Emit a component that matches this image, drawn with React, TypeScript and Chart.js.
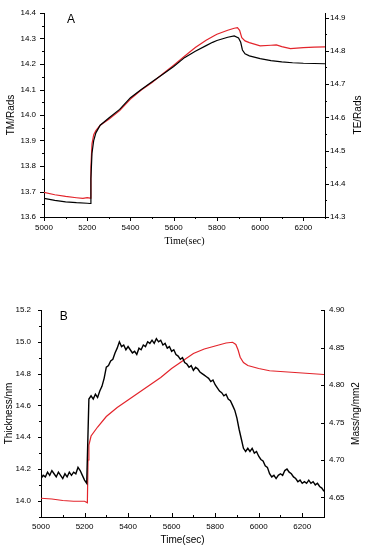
import React, { useEffect, useRef } from 'react';
import { Chart, registerables } from 'chart.js';

Chart.register(...registerables);

// ---------- Panel A data ----------
const timeTM = [5000, 5050, 5100, 5150, 5200, 5213, 5217, 5222, 5230, 5240, 5260, 5300, 5350, 5400, 5450, 5500, 5550, 5600, 5650, 5700, 5750, 5780, 5800, 5850, 5880, 5900, 5910, 5918, 5930, 5950, 6000, 6050, 6100, 6150, 6200, 6250, 6300];
const valTM = [13.673, 13.665, 13.659, 13.656, 13.654, 13.653, 13.75, 13.85, 13.90, 13.93, 13.96, 13.988, 14.022, 14.068, 14.10, 14.13, 14.16, 14.19, 14.225, 14.25, 14.272, 14.285, 14.292, 14.305, 14.31, 14.302, 14.285, 14.255, 14.24, 14.232, 14.221, 14.213, 14.208, 14.205, 14.203, 14.202, 14.201];

const timeTE = [5000, 5050, 5100, 5150, 5180, 5200, 5213, 5217, 5222, 5230, 5240, 5260, 5300, 5350, 5400, 5450, 5500, 5550, 5600, 5650, 5700, 5750, 5785, 5800, 5850, 5880, 5895, 5905, 5915, 5930, 5950, 6000, 6050, 6075, 6100, 6140, 6200, 6250, 6300];
const valTE = [14.374, 14.367, 14.362, 14.358, 14.356, 14.358, 14.357, 14.45, 14.52, 14.548, 14.56, 14.576, 14.594, 14.620, 14.655, 14.682, 14.705, 14.731, 14.757, 14.784, 14.81, 14.832, 14.845, 14.85, 14.862, 14.868, 14.870, 14.862, 14.840, 14.830, 14.825, 14.815, 14.817, 14.818, 14.813, 14.807, 14.810, 14.811, 14.812];

// ---------- Panel B data ----------
const thickStart = 5000;
const thickStep = 10;
const thickVals = [
  14.14, 14.16, 14.15, 14.18, 14.16, 14.19, 14.17, 14.15, 14.18, 14.16,
  14.14, 14.17, 14.15, 14.18, 14.16, 14.18, 14.17, 14.21, 14.19, 14.16,
  14.13, 14.11, 14.64, 14.66, 14.64, 14.67, 14.65, 14.69, 14.72, 14.77,
  14.84, 14.85, 14.88, 14.89, 14.93, 14.96, 15.00, 14.97, 14.98, 14.95,
  14.97, 14.95, 14.93, 14.94, 14.92, 14.96, 14.95, 14.98, 14.97, 15.00,
  14.99, 15.01, 14.99, 15.02, 15.00, 15.01, 14.98, 14.99, 14.96, 14.97,
  14.94, 14.95, 14.92, 14.91, 14.89, 14.90, 14.87, 14.86, 14.84, 14.85,
  14.82, 14.84, 14.83, 14.81, 14.80, 14.79, 14.78, 14.77, 14.75, 14.76,
  14.73, 14.71, 14.69, 14.68, 14.66, 14.67, 14.64, 14.63, 14.60, 14.57,
  14.52, 14.45, 14.39, 14.33, 14.31, 14.33, 14.31, 14.33, 14.30, 14.31,
  14.28, 14.26, 14.25, 14.22, 14.21, 14.17, 14.15, 14.16, 14.14, 14.16,
  14.17, 14.16, 14.19, 14.20, 14.18, 14.17, 14.15, 14.14, 14.12, 14.13,
  14.11, 14.12, 14.11, 14.13, 14.11, 14.12, 14.10, 14.11, 14.09, 14.08,
  14.06,
];

const timeMass = [5000, 5050, 5100, 5150, 5200, 5213, 5216, 5220, 5230, 5260, 5300, 5350, 5400, 5450, 5500, 5550, 5600, 5650, 5700, 5750, 5800, 5850, 5880, 5895, 5905, 5915, 5930, 5950, 6000, 6050, 6100, 6150, 6200, 6250, 6300];
const valMass = [4.649, 4.648, 4.646, 4.645, 4.645, 4.643, 4.70, 4.72, 4.732, 4.744, 4.758, 4.770, 4.780, 4.790, 4.800, 4.810, 4.822, 4.832, 4.842, 4.848, 4.852, 4.856, 4.857, 4.854, 4.847, 4.837, 4.830, 4.826, 4.822, 4.819, 4.818, 4.817, 4.816, 4.815, 4.814];

// ---------- Tick labels ----------
const xTicks = [5000, 5200, 5400, 5600, 5800, 6000, 6200];
const xMinor = [5100, 5300, 5500, 5700, 5900, 6100, 6300];
const tmTicks = [13.6, 13.7, 13.8, 13.9, 14.0, 14.1, 14.2, 14.3, 14.4];
const teTicks = [14.3, 14.4, 14.5, 14.6, 14.7, 14.8, 14.9];
const thickTicks = [14.0, 14.2, 14.4, 14.6, 14.8, 15.0, 15.2];
const massTicks = [4.65, 4.70, 4.75, 4.80, 4.85, 4.90];

const midpoints = (arr: number[]) => arr.slice(0, -1).map((v, i) => (v + arr[i + 1]) / 2);

const BLACK = '#000000';
const RED = '#e3242b';
const SANS = '"Liberation Sans", Arial, sans-serif';
const SERIF = '"Liberation Serif", "Times New Roman", serif';

type TickSpec = { id: string; major: number[]; minor: number[]; len: number; minorLen: number; dir: number };

const tickPlugin = (specs: TickSpec[]) => ({
  id: 'tickMarks',
  afterDraw(chart: any) {
    const ctx = chart.ctx;
    const ca = chart.chartArea;
    ctx.save();
    ctx.strokeStyle = '#000';
    ctx.lineWidth = 1;
    for (const s of specs) {
      const sc = chart.scales[s.id];
      const draw = (v: number, len: number) => {
        const p = Math.round(sc.getPixelForValue(v)) + 0.5;
        ctx.beginPath();
        if (sc.isHorizontal()) {
          const y0 = ca.bottom;
          ctx.moveTo(p, y0);
          ctx.lineTo(p, y0 + s.dir * len);
        } else if (sc.position === 'left') {
          const x0 = ca.left;
          ctx.moveTo(x0, p);
          ctx.lineTo(x0 - s.dir * len, p);
        } else {
          const x0 = ca.right;
          ctx.moveTo(x0, p);
          ctx.lineTo(x0 + s.dir * len, p);
        }
        ctx.stroke();
      };
      s.major.forEach((v) => draw(v, s.len));
      s.minor.forEach((v) => draw(v, s.minorLen));
    }
    ctx.restore();
  },
});

// Right-hand axis title, rotated to read bottom-to-top like the left one
const rightTitlePlugin = (text: string, x: number, size: number) => ({
  id: 'rightTitle',
  afterDraw(chart: any) {
    const ctx = chart.ctx;
    const ca = chart.chartArea;
    ctx.save();
    ctx.translate(x, (ca.top + ca.bottom) / 2);
    ctx.rotate(-Math.PI / 2);
    ctx.font = `${size}px ${SANS}`;
    ctx.fillStyle = '#000';
    ctx.textAlign = 'center';
    ctx.textBaseline = 'middle';
    ctx.fillText(text, 0, 0);
    ctx.restore();
  },
});

const letterPlugin = (letter: string, xv: number, yv: number, yId: string, size: number) => ({
  id: 'letter' + letter,
  afterDraw(chart: any) {
    const ctx = chart.ctx;
    const x = chart.scales.x.getPixelForValue(xv);
    const y = chart.scales[yId].getPixelForValue(yv);
    ctx.save();
    ctx.font = `${size}px ${SANS}`;
    ctx.fillStyle = '#000';
    ctx.textAlign = 'center';
    ctx.textBaseline = 'middle';
    ctx.fillText(letter, x, y);
    ctx.restore();
  },
});

const tickFont = { family: SANS, size: 8 };

function axis(opts: any) {
  const { ticks, fmt, min, max, position, width, height, pad, title, titleFont, titlePad } = opts;
  const o: any = {
    type: 'linear',
    position,
    min,
    max,
    border: { display: true, color: '#000', width: 1 },
    grid: { display: false, drawTicks: false },
    ticks: {
      font: tickFont,
      color: '#000',
      padding: pad,
      autoSkip: false,
      maxRotation: 0,
      includeBounds: false,
      callback: (v: number) => fmt(v),
    },
    afterBuildTicks: (s: any) => {
      s.ticks = ticks.map((v: number) => ({ value: v }));
    },
    afterFit: (s: any) => {
      if (width !== undefined) s.width = width;
      if (height !== undefined) s.height = height;
    },
    title: {
      display: !!title,
      text: title || '',
      color: '#000',
      font: titleFont,
      padding: titlePad,
    },
  };
  return o;
}

export default function App() {
  const refA = useRef<HTMLCanvasElement>(null);
  const refB = useRef<HTMLCanvasElement>(null);

  useEffect(() => {
    const chartA = new Chart(refA.current as HTMLCanvasElement, {
      type: 'line',
      data: {
        datasets: [
          {
            label: 'TM',
            data: timeTM.map((t, i) => ({ x: t, y: valTM[i] })),
            borderColor: BLACK,
            borderWidth: 1.2,
            pointRadius: 0,
            yAxisID: 'y',
          },
          {
            label: 'TE',
            data: timeTE.map((t, i) => ({ x: t, y: valTE[i] })),
            borderColor: RED,
            borderWidth: 1.2,
            pointRadius: 0,
            yAxisID: 'y2',
          },
        ],
      },
      options: {
        responsive: false,
        animation: false,
        devicePixelRatio: 1,
        layout: { padding: { top: 13, left: 0, right: 0, bottom: 0 } },
        plugins: { legend: { display: false }, tooltip: { enabled: false } },
        scales: {
          x: axis({
            ticks: xTicks, fmt: (v: number) => String(v), min: 5000, max: 6300, position: 'bottom',
            height: 58, pad: 6, title: 'Time(sec)', titleFont: { family: SERIF, size: 10 },
            titlePad: { top: 0, bottom: 28 },
          }),
          y: axis({
            ticks: tmTicks, fmt: (v: number) => v.toFixed(1), min: 13.6, max: 14.4, position: 'left',
            width: 44, pad: 8, title: 'TM/Rads', titleFont: { family: SANS, size: 10 },
            titlePad: { top: 5, bottom: 0 },
          }),
          y2: axis({
            ticks: teTicks, fmt: (v: number) => v.toFixed(1), min: 14.3, max: 14.914, position: 'right',
            width: 40, pad: 5, title: '',
          }),
        },
      },
      plugins: [
        tickPlugin([
          { id: 'x', major: xTicks, minor: xMinor, len: 4, minorLen: 2, dir: 1 },
          { id: 'y', major: tmTicks, minor: midpoints(tmTicks), len: 4, minorLen: 2, dir: 1 },
          { id: 'y2', major: teTicks, minor: midpoints(teTicks), len: 4, minorLen: 2, dir: 1 },
        ]),
        rightTitlePlugin('TE/Rads', 358, 10),
        letterPlugin('A', 5125, 14.375, 'y', 12),
      ],
    } as any);

    const chartB = new Chart(refB.current as HTMLCanvasElement, {
      type: 'line',
      data: {
        datasets: [
          {
            label: 'Thickness',
            data: thickVals.map((v, i) => ({ x: thickStart + i * thickStep, y: v })),
            borderColor: BLACK,
            borderWidth: 1.4,
            pointRadius: 0,
            yAxisID: 'y',
          },
          {
            label: 'Mass',
            data: timeMass.map((t, i) => ({ x: t, y: valMass[i] })),
            borderColor: RED,
            borderWidth: 1.2,
            pointRadius: 0,
            yAxisID: 'y2',
          },
        ],
      },
      options: {
        responsive: false,
        animation: false,
        devicePixelRatio: 1,
        layout: { padding: { top: 35, left: 0, right: 0, bottom: 0 } },
        plugins: { legend: { display: false }, tooltip: { enabled: false } },
        scales: {
          x: axis({
            ticks: xTicks, fmt: (v: number) => String(v), min: 5000, max: 6300, position: 'bottom',
            height: 33, pad: 5, title: 'Time(sec)', titleFont: { family: SANS, size: 10 },
            titlePad: { top: 0, bottom: 4 },
          }),
          y: axis({
            ticks: thickTicks, fmt: (v: number) => v.toFixed(1), min: 13.898, max: 15.2, position: 'left',
            width: 41, pad: 10, title: 'Thickness/nm', titleFont: { family: SANS, size: 10 },
            titlePad: { top: 3, bottom: 0 },
          }),
          y2: axis({
            ticks: massTicks, fmt: (v: number) => v.toFixed(2), min: 4.624, max: 4.9, position: 'right',
            width: 41, pad: 5, title: '',
          }),
        },
      },
      plugins: [
        tickPlugin([
          { id: 'x', major: xTicks, minor: xMinor, len: 4, minorLen: 2, dir: -1 },
          { id: 'y', major: thickTicks, minor: [13.9].concat(midpoints(thickTicks)), len: 3, minorLen: 2, dir: 1 },
          { id: 'y2', major: massTicks, minor: [], len: 3, minorLen: 2, dir: -1 },
        ]),
        rightTitlePlugin('Mass/ng/mm2', 356, 10),
        letterPlugin('B', 5105, 15.156, 'y', 12),
      ],
    } as any);

    return () => {
      chartA.destroy();
      chartB.destroy();
    };
  }, []);

  return (
    <div style={{ position: 'absolute', left: 0, top: 0, width: 365, height: 550, background: '#fff' }}>
      <canvas ref={refA} width={365} height={275} style={{ display: 'block', width: 365, height: 275 }} />
      <canvas ref={refB} width={365} height={275} style={{ display: 'block', width: 365, height: 275 }} />
    </div>
  );
}
